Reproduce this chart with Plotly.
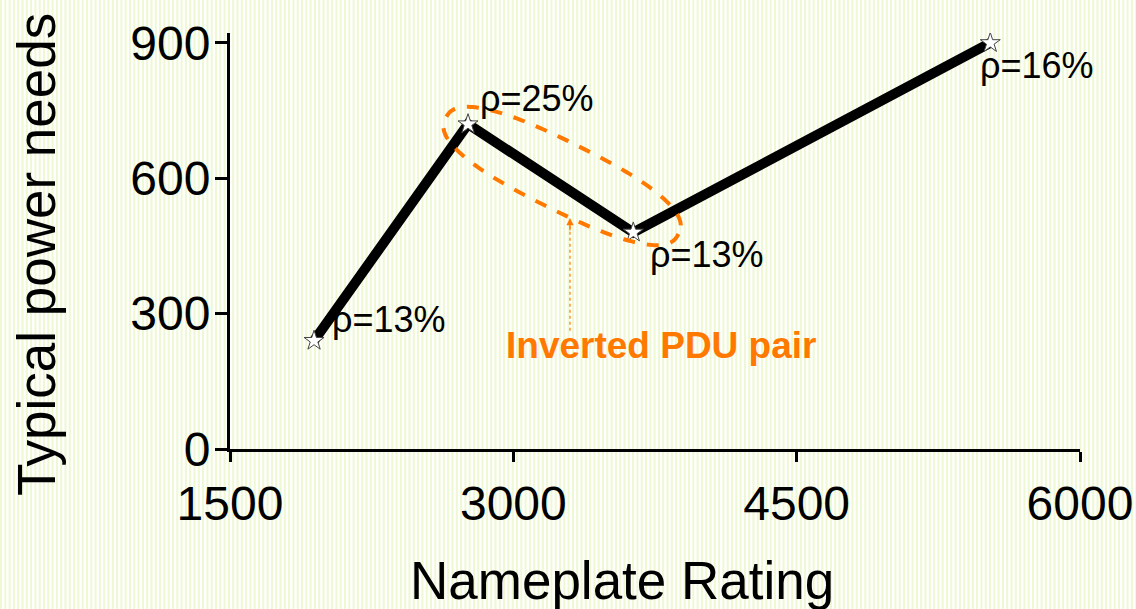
import numpy as np
import plotly.graph_objects as go

# Data
nameplate = [1945, 2760, 3635, 5525]
typical_power = [240, 720, 480, 900]
rho_labels = ["ρ=13%", "ρ=25%", "ρ=13%", "ρ=16%"]
x_ticks = [1500, 3000, 4500, 6000]
y_ticks = [0, 300, 600, 900]

W, H = 1136, 609
M_L, M_R, M_T, M_B = 230, 56, 33, 160
X_RANGE = [1500, 6000]
Y_RANGE = [0, 922]
PW, PH = W - M_L - M_R, H - M_T - M_B

FONT = "Liberation Sans, Arial, sans-serif"
ORANGE = "#FF7800"

def to_px(x, y):
    px = M_L + (x - X_RANGE[0]) / (X_RANGE[1] - X_RANGE[0]) * PW
    py = M_T + PH - (y - Y_RANGE[0]) / (Y_RANGE[1] - Y_RANGE[0]) * PH
    return px, py

def to_data(px, py):
    x = X_RANGE[0] + (px - M_L) / PW * (X_RANGE[1] - X_RANGE[0])
    y = Y_RANGE[0] + (M_T + PH - py) / PH * (Y_RANGE[1] - Y_RANGE[0])
    return x, y

def paper_x(px):
    return (px - M_L) / PW

def paper_y(py):
    return (M_T + PH - py) / PH

fig = go.Figure()

fig.add_trace(go.Scatter(
    x=nameplate, y=typical_power, mode="lines+markers",
    line=dict(color="black", width=10),
    marker=dict(symbol="star", size=15, color="white",
                line=dict(color="#444444", width=1)),
    hoverinfo="skip", showlegend=False,
))

shapes = []
# striped backdrop
period, stripe = 4.3, 2.0
px = 0.0
while px < W:
    shapes.append(dict(
        type="rect", xref="paper", yref="paper", layer="below",
        x0=paper_x(px), x1=paper_x(px + stripe),
        y0=paper_y(H), y1=paper_y(0),
        fillcolor="#eef8d2", line=dict(width=0),
    ))
    px += period

# dashed rounded loop (superellipse) around the inverted pair
cx, cy = to_px(3258, 605)
ang = np.deg2rad(26.5)
a, b, n = 130, 34, 2.5
t = np.linspace(0, 2 * np.pi, 160)
c, s = np.cos(t), np.sin(t)
u = a * np.sign(c) * np.abs(c) ** (2 / n)
v = b * np.sign(s) * np.abs(s) ** (2 / n)
ex = cx + u * np.cos(ang) - v * np.sin(ang)
ey = cy + u * np.sin(ang) + v * np.cos(ang)
pts = [to_data(p, q) for p, q in zip(ex, ey)]
path = "M " + " L ".join(f"{p[0]:.2f},{p[1]:.2f}" for p in pts) + " Z"
shapes.append(dict(type="path", xref="x", yref="y", path=path,
                   line=dict(color=ORANGE, width=4, dash="dash")))

# dotted pointer line
shapes.append(dict(type="line", xref="x", yref="y",
                   x0=3300, y0=262, x1=3300, y1=505,
                   line=dict(color=ORANGE, width=1.2, dash="dot")))

annotations = []
offsets = [(16, 21), (10, 26), (15, -22), (-12, -23)]
for xv, yv, lab, (dx, dy) in zip(nameplate, typical_power, rho_labels, offsets):
    annotations.append(dict(
        x=xv, y=yv, xref="x", yref="y", text=lab, showarrow=False,
        xanchor="left", yanchor="middle", xshift=dx, yshift=dy,
        font=dict(family=FONT, size=36, color="black"),
    ))

# arrowhead on the pointer
annotations.append(dict(
    x=3300, y=512, xref="x", yref="y", text="", showarrow=True,
    ax=0, ay=14, arrowhead=2, arrowsize=1.2, arrowwidth=1.2,
    arrowcolor=ORANGE,
))
annotations.append(dict(
    x=3782, y=230, xref="x", yref="y", text="<b>Inverted PDU pair</b>",
    showarrow=False, xanchor="center", yanchor="middle",
    font=dict(family=FONT, size=37, color=ORANGE),
))

# axis titles
annotations.append(dict(
    x=paper_x(622), y=paper_y(580), xref="paper", yref="paper",
    text="Nameplate Rating", showarrow=False,
    xanchor="center", yanchor="middle",
    font=dict(family=FONT, size=53, color="black"),
))
annotations.append(dict(
    x=paper_x(36), y=paper_y(255), xref="paper", yref="paper",
    text="Typical power needs", showarrow=False, textangle=-90,
    xanchor="center", yanchor="middle",
    font=dict(family=FONT, size=53, color="black"),
))

fig.update_layout(
    width=W, height=H,
    margin=dict(l=M_L, r=M_R, t=M_T, b=M_B, pad=0),
    paper_bgcolor="white", plot_bgcolor="rgba(0,0,0,0)",
    shapes=shapes, annotations=annotations,
    font=dict(family=FONT, color="black"),
    xaxis=dict(
        range=X_RANGE, tickvals=x_ticks, ticktext=[str(v) for v in x_ticks],
        showgrid=False, zeroline=False, showline=True, linecolor="black",
        linewidth=3, ticks="outside", ticklen=10, tickwidth=3, tickcolor="black",
        tickfont=dict(size=48, family=FONT), automargin=False,
    ),
    yaxis=dict(
        range=Y_RANGE, tickvals=y_ticks, ticktext=[str(v) for v in y_ticks],
        showgrid=False, zeroline=False, showline=True, linecolor="black",
        linewidth=3, ticks="outside", ticklen=12, tickwidth=3, tickcolor="black",
        tickfont=dict(size=48, family=FONT), automargin=False,
        ticklabelstandoff=-5,
    ),
)

fig.write_html("out.html")
